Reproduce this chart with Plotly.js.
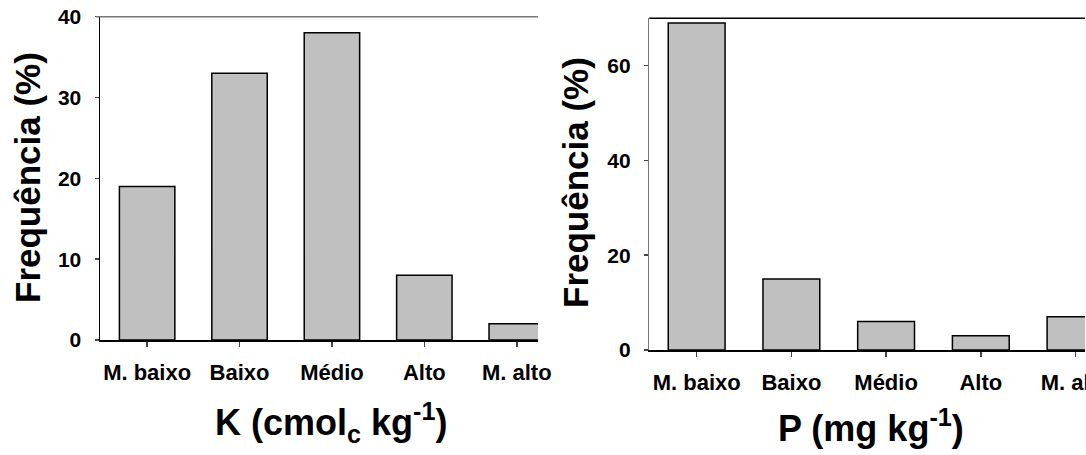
<!DOCTYPE html>
<html>
<head>
<meta charset="utf-8">
<script src="https://cdn.plot.ly/plotly-3.0.1.min.js"></script>
<style>html,body{margin:0;padding:0;background:#fff}#chart{width:1086px;height:455px}</style>
</head>
<body>
<div id="chart"></div>
<script>
// Data
const categories = ["M. baixo", "Baixo", "Médio", "Alto", "M. alto"];
const kValues = [19, 33, 38, 8, 2];
const pValues = [69, 15, 6, 3, 7];
const kTitle = "K (cmol<sub>c</sub> kg<sup>-1</sup>)";
const pTitle = "P (mg kg<sup>-1</sup>)";
const yTitle = "Frequência (%)";
const kTicks = [0, 10, 20, 30, 40];
const pTicks = [0, 20, 40, 60];

const W = 1086, H = 455;
const px = v => v / W;
const py = v => 1 - v / H;
const FONT = "Liberation Sans, Arial, sans-serif";

const barStyle = {color: "#c0c0c0", line: {color: "#000", width: 1.5}};

const traces = [
  {type: "bar", x: categories, y: kValues, xaxis: "x", yaxis: "y", width: 0.6, marker: barStyle, hoverinfo: "x+y"},
  {type: "bar", x: categories, y: pValues, xaxis: "x2", yaxis: "y2", width: 0.6, marker: barStyle, hoverinfo: "x+y"}
];

const xCommon = {
  type: "category", showgrid: false, zeroline: false, showline: true, linecolor: "#000", linewidth: 1.5,
  ticks: "outside", ticklen: 5, tickcolor: "#444", tickwidth: 1.5,
  tickfont: {family: FONT, size: 22, color: "#000", weight: "bold"}, fixedrange: true,
  ticklabelstandoff: 7
};
const yCommon = {
  showgrid: false, zeroline: false, showline: true, linewidth: 1.5,
  ticks: "outside", ticklen: 4, tickcolor: "#444", tickwidth: 1.5,
  tickfont: {family: FONT, size: 21, color: "#000", weight: "bold"}, fixedrange: true,
  ticklabelstandoff: 9
};

const layout = {
  width: W, height: H,
  margin: {l: 0, r: 0, t: 0, b: 0},
  paper_bgcolor: "#fff", plot_bgcolor: "#fff",
  showlegend: false,
  bargap: 0.4,
  xaxis: Object.assign({}, xCommon, {domain: [px(100), px(538)], range: [-0.51, 4.23], anchor: "y"}),
  yaxis: Object.assign({}, yCommon, {domain: [py(340), py(16.7)], range: [0, 40], tickvals: kTicks, linecolor: "#000", anchor: "x"}),
  xaxis2: Object.assign({}, xCommon, {domain: [px(649.3), px(1085)], range: [-0.5, 4.1], anchor: "y2"}),
  yaxis2: Object.assign({}, yCommon, {domain: [py(350), py(18.3)], range: [0, 70], tickvals: pTicks, linecolor: "#777", anchor: "x2"}),
  shapes: [
    {type: "line", xref: "x domain", yref: "y domain", x0: -0.009, x1: 1, y0: 1, y1: 1, line: {color: "#777", width: 1.5}},
    {type: "line", xref: "x2 domain", yref: "y2 domain", x0: 0, x1: 1, y0: 1, y1: 1, line: {color: "#000", width: 1.5}}
  ],
  annotations: [
    {text: kTitle, xref: "paper", yref: "paper", x: px(331), y: py(422), xanchor: "center", yanchor: "middle", showarrow: false,
     font: {family: FONT, size: 36, color: "#000", weight: "bold"}},
    {text: pTitle, xref: "paper", yref: "paper", x: px(871), y: py(426), xanchor: "center", yanchor: "middle", showarrow: false,
     font: {family: FONT, size: 36, color: "#000", weight: "bold"}},
    {text: yTitle, xref: "paper", yref: "paper", x: px(28), y: py(178), xanchor: "center", yanchor: "middle", textangle: -90, showarrow: false,
     font: {family: FONT, size: 35, color: "#000", weight: "bold"}},
    {text: yTitle, xref: "paper", yref: "paper", x: px(575), y: py(183), xanchor: "center", yanchor: "middle", textangle: -90, showarrow: false,
     font: {family: FONT, size: 35, color: "#000", weight: "bold"}}
  ]
};

Plotly.newPlot("chart", traces, layout, {displayModeBar: false, staticPlot: true});
</script>
</body>
</html>
